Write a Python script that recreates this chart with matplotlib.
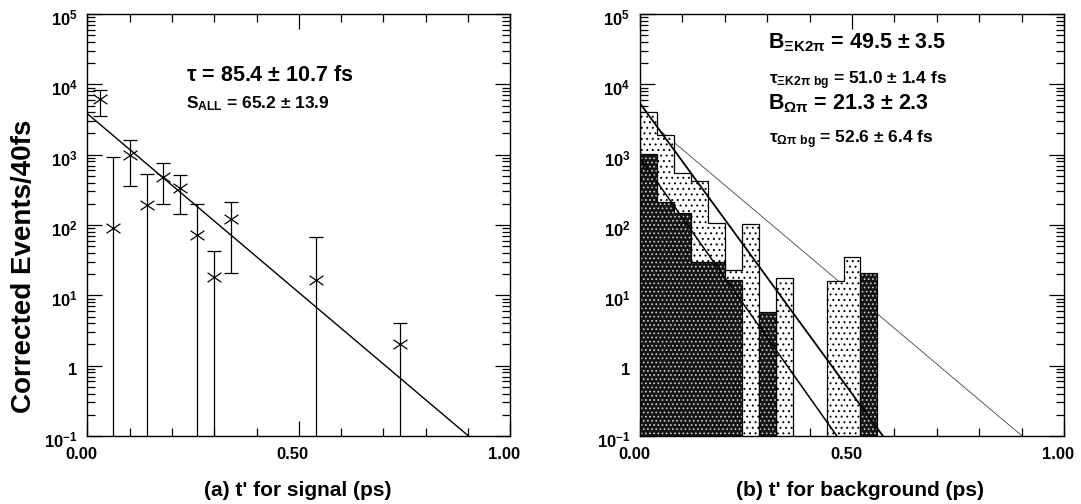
import numpy as np
import matplotlib
matplotlib.use('Agg')
import matplotlib.pyplot as plt
from matplotlib.path import Path
from matplotlib.ticker import FixedLocator, LogLocator, NullFormatter, FuncFormatter
import matplotlib.transforms as mtrans

plt.rcParams['font.family'] = ['Liberation Sans', 'DejaVu Sans']
plt.rcParams['font.weight'] = 'bold'
plt.rcParams['mathtext.fontset'] = 'custom'
plt.rcParams['mathtext.rm'] = 'Liberation Sans:bold'
plt.rcParams['mathtext.bf'] = 'Liberation Sans:bold'
plt.rcParams['mathtext.it'] = 'Liberation Sans:bold'
plt.rcParams['mathtext.default'] = 'rm'
plt.rcParams['hatch.linewidth'] = 0.7

# ---------------- data ----------------
# (a) signal: t' bin centres (ps), corrected events, error-bar ends (0 = bar runs to bottom)
sig_t = [0.03, 0.06, 0.10, 0.14, 0.18, 0.22, 0.26, 0.30, 0.34, 0.54, 0.74]
sig_n = [6270, 92, 1000, 195, 489, 333, 72, 18, 122, 16.5, 2.0]
sig_hi = [8400, 940, 1600, 533, 757, 522, 199, 42, 215, 68, 4.0]
sig_lo = [3500, 0, 364, 0, 199, 143, 0, 0, 21, 0, 0]
sig_fit_tau = 0.0854    # ps
sig_fit_amp = 3830

# (b) background histograms, 40 fs bins starting at 0
bg_bin_width = 0.04
bg_total = [4000, 1900, 543, 426, 106, 22.9, 102, 0, 17.8, 0, 0, 16, 35.4, 0]
bg_omega = [1010, 214, 147, 30, 30, 16.5, 0, 5.8, 0, 0, 0, 0, 0, 21]
bg_fit_tau_upper = 0.0526
bg_fit_amp_upper = 5370
bg_fit_tau_lower = 0.0510
bg_fit_amp_lower = 900

x_ticks = [0.0, 0.5, 1.0]
x_ticklabels = ['0.00', '0.50', '1.00']
y_ticklabels = {0.1: r'$10^{-1}$', 1: '1', 10: r'$10^{1}$', 100: r'$10^{2}$',
                1000: r'$10^{3}$', 10000: r'$10^{4}$', 100000: r'$10^{5}$'}

# ---------------- figure ----------------
W, H = 1081, 504
fig = plt.figure(figsize=(W / 100, H / 100), dpi=100)
axL = fig.add_axes([87.3 / W, (H - 436) / H, 423 / W, 422 / H])
axR = fig.add_axes([640 / W, (H - 436) / H, 424 / W, 422 / H])


def style_axes(ax):
    ax.set_yscale('log')
    ax.set_xlim(0, 1)
    ax.set_ylim(0.1, 1e5)
    ax.xaxis.set_major_locator(FixedLocator(x_ticks))
    ax.xaxis.set_minor_locator(FixedLocator([i / 10 for i in range(11)]))
    ax.set_xticklabels(x_ticklabels)
    ax.yaxis.set_major_locator(LogLocator(base=10, numticks=20))
    ax.yaxis.set_minor_locator(LogLocator(base=10, subs=np.arange(2, 10), numticks=20))
    ax.yaxis.set_minor_formatter(NullFormatter())
    ax.yaxis.set_major_formatter(FuncFormatter(
        lambda v, p: y_ticklabels.get(float(f'{v:.6g}'), '')))
    ax.tick_params(which='both', direction='in', top=True, right=True, width=0.9,
                   labelsize=12, colors='k')
    ax.tick_params(which='major', length=11, pad=7)
    ax.tick_params(which='minor', length=5.5)
    for s in ax.spines.values():
        s.set_linewidth(1.0)
    off_x = mtrans.ScaledTranslation(-6 / 100, -1 / 100, fig.dpi_scale_trans)
    for lbl in ax.get_xticklabels():
        lbl.set_transform(lbl.get_transform() + off_x)
        lbl.set_fontweight('bold')
    off_y = mtrans.ScaledTranslation(0, -3 / 100, fig.dpi_scale_trans)
    for lbl in ax.get_yticklabels():
        lbl.set_transform(lbl.get_transform() + off_y)
        lbl.set_fontweight('bold')


# ---- panel (a)
xx = np.linspace(0, 1, 400)
axL.plot(xx, sig_fit_amp * np.exp(-xx / sig_fit_tau), color='k', lw=1.0, zorder=2)

n = np.array(sig_n, float)
lo_end = np.where(np.array(sig_lo) > 0, np.array(sig_lo, float), 1e-4)
yerr = [n - lo_end, np.array(sig_hi, float) - n]
axL.errorbar(sig_t, n, yerr=yerr, fmt='none', ecolor='k', elinewidth=0.9,
             capsize=4.8, capthick=0.9, zorder=3)
xmark = Path([(-1, -0.68), (1, 0.68), (-1, 0.68), (1, -0.68)],
             [Path.MOVETO, Path.LINETO, Path.MOVETO, Path.LINETO])
axL.plot(sig_t, n, ls='none', marker=xmark, markersize=10, mew=0.9,
         color='k', zorder=4)
style_axes(axL)

axL.text(0.2335, 0.842, r'$\tau$ = 85.4 $\pm$ 10.7 fs', transform=axL.transAxes,
         fontsize=15.5, fontweight='bold', va='baseline')
axL.text(0.2335, 0.776, r'S$_{\mathrm{ALL}}$ = 65.2 $\pm$ 13.9', transform=axL.transAxes,
         fontsize=12.5, fontweight='bold', va='baseline')

# ---- panel (b)
edges = np.arange(len(bg_total) + 1) * bg_bin_width
tot = np.array(bg_total, float)
om = np.array(bg_omega, float)
tot_d = np.where(tot > 0, tot, 1e-4)
om_d = np.where(om > 0, om, 1e-4)

axR.plot(xx, sig_fit_amp * np.exp(-xx / sig_fit_tau), color='#444444', lw=0.6, zorder=1)
axR.stairs(tot_d, edges, baseline=1e-4, fill=True, facecolor='white',
           edgecolor='k', hatch='...', lw=0.9, zorder=2)
axR.stairs(om_d, edges, baseline=1e-4, fill=True, facecolor='#151515',
           edgecolor='#cfcfcf', hatch='....', lw=0, zorder=2.5)
axR.stairs(om_d, edges, baseline=1e-4, fill=False, edgecolor='k', lw=0.9, zorder=2.6)
axR.plot(xx, bg_fit_amp_upper * np.exp(-xx / bg_fit_tau_upper), color='k', lw=1.3, zorder=3)
axR.plot(xx, bg_fit_amp_lower * np.exp(-xx / bg_fit_tau_lower), color='k', lw=1.1, zorder=3)
style_axes(axR)

axR.text(0.302, 0.919, r'B$_{\Xi\mathrm{K2}\pi}$ = 49.5 $\pm$ 3.5', transform=axR.transAxes,
         fontsize=15.5, fontweight='bold', va='baseline')
axR.text(0.304, 0.834, r'$\tau_{\Xi\mathrm{K2}\pi\ \mathrm{bg}}$ = 51.0 $\pm$ 1.4 fs',
         transform=axR.transAxes, fontsize=12.5, fontweight='bold', va='baseline')
axR.text(0.302, 0.773, r'B$_{\Omega\pi}$ = 21.3 $\pm$ 2.3', transform=axR.transAxes,
         fontsize=15.5, fontweight='bold', va='baseline')
axR.text(0.304, 0.693, r'$\tau_{\Omega\pi\ \mathrm{bg}}$ = 52.6 $\pm$ 6.4 fs',
         transform=axR.transAxes, fontsize=12.5, fontweight='bold', va='baseline')

# ---- labels
fig.text(24 / W, 1 - 266 / H, 'Corrected Events/40fs', rotation=90, fontsize=20,
         fontweight='bold', ha='center', va='center')
fig.text(298 / W, 1 - 490 / H, "(a) t' for signal (ps)", fontsize=15,
         fontweight='bold', ha='center', va='center')
fig.text(860 / W, 1 - 490 / H, "(b) t' for background (ps)", fontsize=15,
         fontweight='bold', ha='center', va='center')

fig.savefig('out.png', dpi=100)
